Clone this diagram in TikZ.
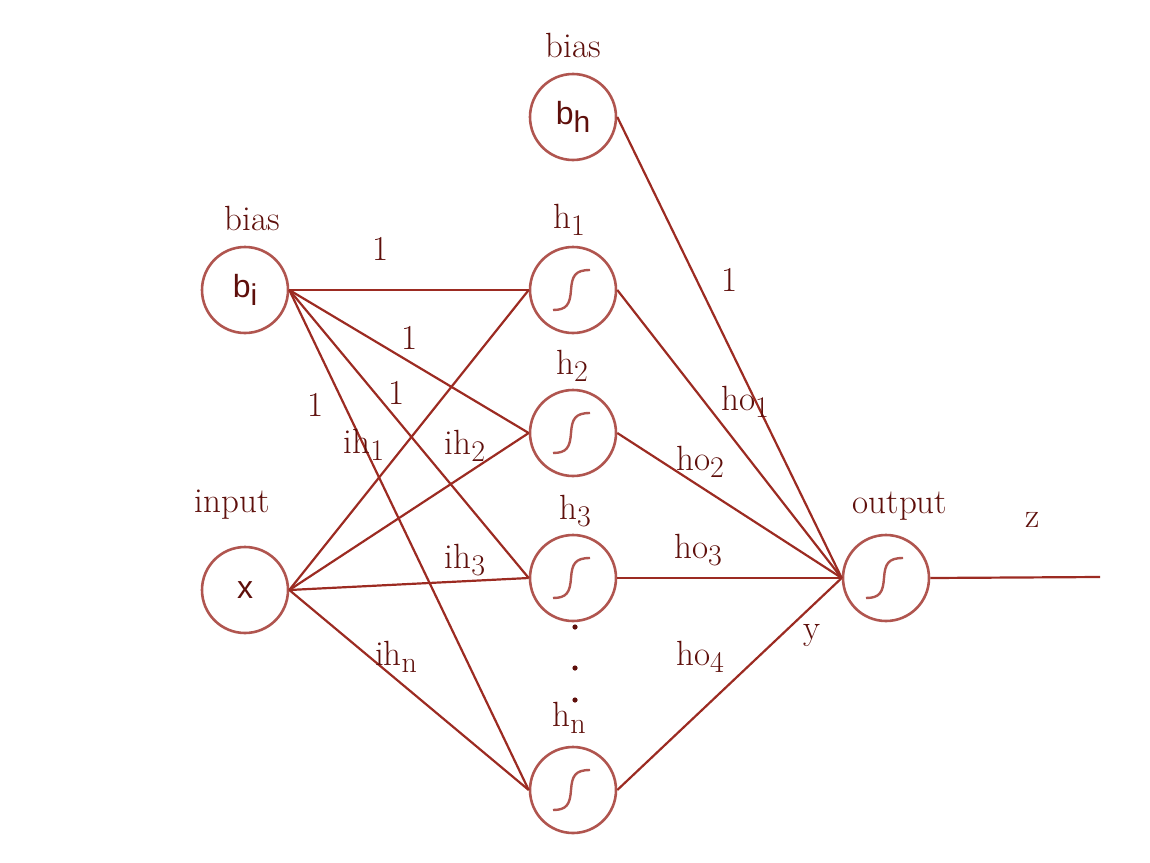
\documentclass[tikz,border=0pt]{standalone}
\usepackage{fontspec}
\newfontfamily\nodefont{Liberation Sans}
\usepackage{tikz}
\definecolor{edgered}{HTML}{9C2B22}
\definecolor{ringred}{HTML}{B0554F}
\definecolor{inkred}{HTML}{5E0F0B}
\newcommand{\lsub}[1]{\raisebox{-0.5ex}{\fontsize{15}{18}\selectfont #1}}
\tikzset{
	neuron/.style={circle,draw=ringred,line width=1.3pt,minimum size=43pt,inner sep=0pt,text=inkred,font=\nodefont\fontsize{16}{19}\selectfont},
	wire/.style={draw=edgered,line width=1.1pt},
	lab/.style={text=inkred,font=\fontsize{17.5}{21}\selectfont,inner sep=0pt},
	sigmoid/.pic={\draw[ringred,line width=1.2pt] (-20,20) .. controls (-6,20) and (-3,14) .. (-2,0) .. controls (-1,-14) and (2,-20) .. (17,-20);}
}
\begin{document}
\begin{tikzpicture}[x=0.5pt,y=-0.5pt]
	\useasboundingbox (0,0) rectangle (1150,862);
	\node[neuron] (bh) at (573,117) {b\lsub{h}};
	\node[neuron] (bi) at (245,290) {b\lsub{i}};
	\node[neuron] (x) at (245,590) {x};
	\node[neuron] (h1) at (573,290) {};
	\node[neuron] (h2) at (573,433) {};
	\node[neuron] (h3) at (573,578) {};
	\node[neuron] (hn) at (573,790) {};
	\node[neuron] (out) at (886,578) {};
	\coordinate (z) at (1100,577);
	\foreach \n in {h1,h2,h3,hn,out} \pic at (\n) {sigmoid};
	\foreach \n in {h1,h2,h3,hn} {
		\draw[wire] (bi.east) -- (\n.west);
		\draw[wire] (x.east) -- (\n.west);
		\draw[wire] (\n.east) -- (out.west);
	}
	\draw[wire] (bh.east) -- (out.west);
	\draw[wire] (out.east) -- (z);
	\fill[inkred] (575,627) circle[radius=1.3pt] (575,668) circle[radius=1.3pt] (575,700) circle[radius=1.3pt];
	\node[lab] (biash) at (573,45) {bias};
	\node[lab] (biasi) at (252,218) {bias};
	\node[lab] (inlab) at (232,505) {input};
	\node[lab] (outlab) at (900,506) {output};
	\node[lab] (h1lab) at (569,220) {h\lsub{1}};
	\node[lab] (h2lab) at (572,366) {h\lsub{2}};
	\node[lab] (h3lab) at (575,511) {h\lsub{3}};
	\node[lab] (hnlab) at (569,718) {h\lsub{n}};
	\node[lab] (w1) at (381,249) {1};
	\node[lab] (w2) at (410,338) {1};
	\node[lab] (w3) at (397,393) {1};
	\node[lab] (w4) at (316,405) {1};
	\node[lab] (w5) at (730,280) {1};
	\node[lab] (ih1) at (364,445) {ih\lsub{1}};
	\node[lab] (ih2) at (465,446) {ih\lsub{2}};
	\node[lab] (ih3) at (465,560) {ih\lsub{3}};
	\node[lab] (ihn) at (396,657) {ih\lsub{n}};
	\node[lab] (ho1) at (745,402) {ho\lsub{1}};
	\node[lab] (ho2) at (700,462) {ho\lsub{2}};
	\node[lab] (ho3) at (698,550) {ho\lsub{3}};
	\node[lab] (ho4) at (700,657) {ho\lsub{4}};
	\node[lab] (ylab) at (812,636) {y};
	\node[lab] (zlab) at (1033,520) {z};
\end{tikzpicture}
\end{document}
